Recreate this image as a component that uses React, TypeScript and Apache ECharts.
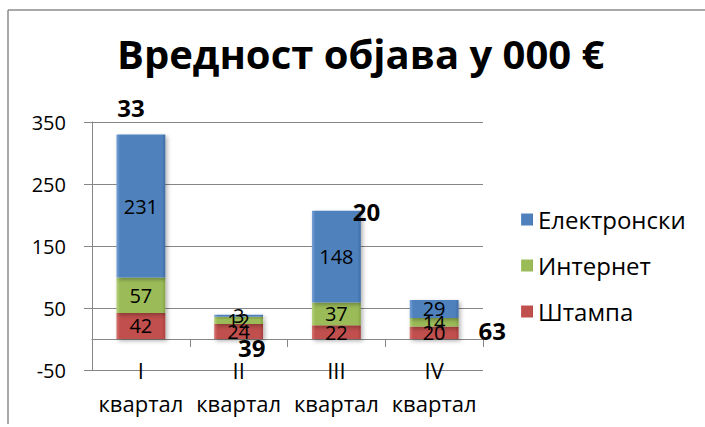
import React, { useEffect, useRef } from "react";
import * as echarts from "echarts";

const categories = ["I\nквартал", "II\nквартал", "III\nквартал", "IV\nквартал"];
const stampa = [42, 24, 22, 20];
const internet = [57, 12, 37, 14];
const elektronski = [231, 3, 148, 29];
const totalLabels = ["33", "39", "20", "63"];
const yTicks = { min: -50, max: 350, interval: 100 };
const titleText = "Вредност објава у 000 €";
const seriesNames = ["Електронски", "Интернет", "Штампа"];

const totalOffsets = [
  [-10, -27],
  [13, 33],
  [30, 1],
  [58, 31],
];

const FONT = "Open Sans";

function bevel(light: string, base: string, dark: string) {
  return new echarts.graphic.LinearGradient(0, 0, 1, 0, [
    { offset: 0, color: light },
    { offset: 0.07, color: base },
    { offset: 0.93, color: base },
    { offset: 1, color: dark },
  ]);
}

export default function App() {
  const ref = useRef<HTMLDivElement>(null);
  useEffect(() => {
    if (!ref.current) return;
    const chart = echarts.init(ref.current, undefined, { renderer: "svg" });
    const totals = stampa.map((v, i) => v + internet[i] + elektronski[i]);
    const barLabel = {
      show: true,
      position: "inside",
      color: "#000",
      fontSize: 20,
      fontFamily: FONT,
    };
    const shadow = {
      shadowBlur: 4,
      shadowOffsetX: 2,
      shadowOffsetY: 2,
      shadowColor: "rgba(0,0,0,0.3)",
    };
    chart.setOption({
      animation: false,
      textStyle: { fontFamily: FONT },
      title: {
        text: titleText,
        left: 117,
        top: 33,
        padding: 0,
        textStyle: { fontSize: 40, fontWeight: "bold", color: "#000", fontFamily: FONT },
      },
      legend: {
        orient: "vertical",
        left: 521,
        top: 206,
        padding: 0,
        itemGap: 19,
        itemWidth: 12,
        itemHeight: 12,
        data: seriesNames.map((n) => ({ name: n, icon: "rect" })),
        textStyle: { fontSize: 24, lineHeight: 27, color: "#000", fontFamily: FONT },
      },
      grid: { left: 92, right: 222, top: 122, bottom: 57, containLabel: false, outerBoundsMode: "none" },
      xAxis: {
        type: "category",
        data: categories,
        axisLine: { onZero: true, lineStyle: { color: "#868686", width: 1 } },
        axisTick: { show: true, length: 8, lineStyle: { color: "#868686" } },
        axisLabel: {
          fontSize: 22,
          lineHeight: 33,
          margin: -17,
          color: "#000",
          fontFamily: FONT,
          interval: 0,
        },
      },
      yAxis: {
        type: "value",
        min: yTicks.min,
        max: yTicks.max,
        interval: yTicks.interval,
        axisLine: { show: true, lineStyle: { color: "#868686" } },
        axisTick: { show: true, length: 8, lineStyle: { color: "#868686" } },
        splitLine: { show: true, lineStyle: { color: "#868686" } },
        axisLabel: { fontSize: 20, margin: 26, color: "#000", fontFamily: FONT },
      },
      series: [
        {
          name: "Штампа",
          type: "bar",
          stack: "q",
          barWidth: "50%",
          data: stampa,
          itemStyle: { color: bevel("#d67572", "#c0504d", "#a8403d"), ...shadow },
          label: barLabel,
        },
        {
          name: "Интернет",
          type: "bar",
          stack: "q",
          data: internet,
          itemStyle: { color: bevel("#b6d27e", "#9bbb59", "#85a346"), ...shadow },
          label: barLabel,
        },
        {
          name: "Електронски",
          type: "bar",
          stack: "q",
          data: elektronski,
          itemStyle: { color: bevel("#7aa3d8", "#4f81bd", "#3f6ca3"), ...shadow },
          label: barLabel,
        },
        {
          name: "total",
          type: "scatter",
          symbolSize: 1,
          itemStyle: { color: "rgba(0,0,0,0)", opacity: 1 },
          z: 10,
          data: totals.map((v, i) => ({
            value: v,
            label: { offset: totalOffsets[i] },
          })),
          label: {
            show: true,
            position: "inside",
            formatter: (p: any) => totalLabels[p.dataIndex],
            fontSize: 24,
            fontWeight: "bold",
            color: "#000",
            fontFamily: FONT,
          },
        },
      ],
      graphic: [
        {
          type: "line",
          shape: { x1: 8, y1: 10, x2: 705, y2: 10 },
          style: { stroke: "#8c8c8c", lineWidth: 1.5 },
        },
        {
          type: "line",
          shape: { x1: 8, y1: 10, x2: 8, y2: 424 },
          style: { stroke: "#8c8c8c", lineWidth: 1.5 },
        },
      ],
    });
    return () => chart.dispose();
  }, []);
  return (
    <div
      ref={ref}
      style={{ position: "absolute", left: 0, top: 0, width: 705, height: 427, background: "#fff" }}
    />
  );
}
